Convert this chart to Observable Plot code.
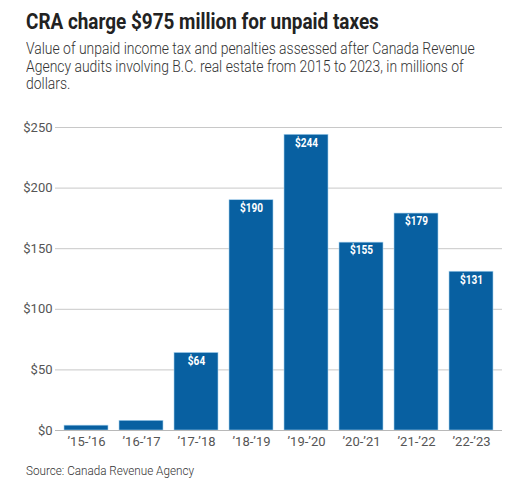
<!DOCTYPE html>
<html>
<head>
<meta charset="utf-8">
<script src="https://cdn.jsdelivr.net/npm/d3@7"></script>
<script src="https://cdn.jsdelivr.net/npm/@observablehq/plot@0.6"></script>
<style>
  html, body { margin: 0; padding: 0; background: #fff; }
  body { width: 529px; height: 488px; overflow: hidden; font-family: Roboto, sans-serif; position: relative; }
  .hdr { position: absolute; left: 26px; top: 0; width: 600px; }
  .title { position: absolute; top: 9px; left: 0; font-size: 22px; font-weight: 700; color: #222; white-space: nowrap; transform: scaleX(0.86); transform-origin: left top; }
  .sub { position: absolute; top: 40px; left: 0; font-size: 16px; font-weight: 300; line-height: 17.5px; color: #333; white-space: nowrap; transform: scaleX(0.87); transform-origin: left top; }
  #chart { position: absolute; left: 0; top: 100px; }
  .src { position: absolute; left: 26px; top: 463px; font-size: 13px; font-weight: 300; color: #333; white-space: nowrap; transform: scaleX(0.9); transform-origin: left top; }
</style>
</head>
<body>
<div class="hdr">
  <div class="title">CRA charge $975 million for unpaid taxes</div>
  <div class="sub">Value of unpaid income tax and penalties assessed after Canada Revenue<br>Agency audits involving B.C. real estate from 2015 to 2023, in millions of<br>dollars.</div>
</div>
<div id="chart"></div>
<div class="src">Source: Canada Revenue Agency</div>
<script>
const years = ["’15-’16", "’16-’17", "’17-’18", "’18-’19", "’19-’20", "’20-’21", "’21-’22", "’22-’23"];
const values = [4, 8, 64, 190, 244, 155, 179, 131];
const labels = ["", "", "$64", "$190", "$244", "$155", "$179", "$131"];
const yTicks = [0, 50, 100, 150, 200, 250];

const data = years.map((y, i) => ({year: y, value: values[i], label: labels[i]}));

const chart = Plot.plot({
  width: 529,
  height: 360,
  marginLeft: 55,
  marginRight: 27,
  marginTop: 27,
  marginBottom: 30,
  style: {fontFamily: "Roboto, sans-serif", fontSize: "13px", color: "#555", background: "transparent"},
  x: {domain: years, paddingInner: 0.2, paddingOuter: 0.1, label: null, tickSize: 0, tickPadding: 6},
  y: {domain: [0, 250], label: null, ticks: yTicks, tickFormat: d => "$" + d, tickSize: 0, tickPadding: 3},
  marks: [
    Plot.gridY(yTicks, {stroke: "#c8c8c8", strokeOpacity: 1}),
    Plot.barY(data, {x: "year", y: "value", fill: "#0860a1", stroke: "#a9d3ef", strokeWidth: 0.6}),
    Plot.ruleY([0], {stroke: "#b8b8b8"}),
    Plot.text(data, {x: "year", y: "value", text: "label", dy: 8, fill: "white", fontWeight: "bold", fontSize: 12, className: "barlab"})
  ]
});
document.getElementById("chart").appendChild(chart);
// condense the white bar labels horizontally, keeping Plot's own positioning
d3.select(chart).selectAll(".barlab text").each(function() {
  const t = this.getAttribute("transform") || "";
  this.setAttribute("transform", t + " scale(0.84,1)");
});
</script>
</body>
</html>
